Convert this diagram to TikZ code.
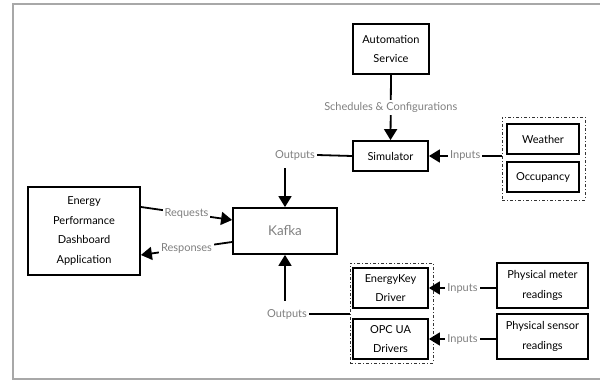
\documentclass[tikz,border=0pt]{standalone}
\usepackage{fontspec}
\setmainfont{Lato}
\usetikzlibrary{arrows.meta,calc}
\definecolor{lbl}{HTML}{808080}
\definecolor{frame}{HTML}{A8A8A8}
\tikzset{
  box/.style={draw=black, line width=1.8pt, align=center, inner sep=0pt, font=\fontsize{11}{19.5}\selectfont},
  lab/.style={text=lbl, fill=white, inner sep=2pt, font=\fontsize{11}{13}\selectfont},
  conn/.style={line width=1.8pt, draw=black},
  arr/.style={conn, -{Triangle[length=11pt,width=13pt]}},
  grp/.style={draw=black!80, line width=0.9pt, dash pattern=on 3pt off 2pt on 1pt off 2pt}
}
\begin{document}
\begin{tikzpicture}[x=1pt,y=-1pt]
\useasboundingbox (0,0) rectangle (600,380);
\draw[frame, line width=1.5pt] (602,4) -- (13,4) -- (13,379) -- (602,379);

\node[box, minimum width=76pt, minimum height=50pt] (auto) at (391,49) {Automation\\Service};
\node[box, minimum width=75pt, minimum height=30pt] (sim) at (390.5,156) {Simulator};
\node[box, minimum width=72pt, minimum height=30pt] (weather) at (543,139) {Weather};
\node[box, minimum width=72pt, minimum height=30pt] (occ) at (543,177) {Occupancy};
\node[grp, minimum width=83pt, minimum height=83pt] (env) at (543.5,158.5) {};

\node[box, minimum width=104pt, minimum height=46pt, font=\fontsize{13.5}{16}\selectfont, text=lbl] (kafka) at (285,231) {Kafka};
\node[box, minimum width=112pt, minimum height=88pt] (dash) at (84,231) {Energy\\Performance\\Dashboard\\Application};

\node[box, minimum width=75pt, minimum height=40pt] (ek) at (390.5,288) {EnergyKey\\Driver};
\node[box, minimum width=75pt, minimum height=40pt] (opc) at (390.5,339) {OPC UA\\Drivers};
\node[grp, minimum width=83pt, minimum height=100pt] (drv) at (391.5,313) {};
\node[box, minimum width=91pt, minimum height=45pt] (meter) at (542.5,285.5) {Physical meter\\readings};
\node[box, minimum width=91pt, minimum height=45pt] (sensor) at (542.5,336.5) {Physical sensor\\readings};

% automation -> simulator
\draw[arr] (auto.south) -- node[lab, pos=0.5] {Schedules \& Configurations} (sim.north);
% environment -> simulator
\draw[arr] (env.west |- sim.east) -- node[lab] {Inputs} (sim.east);
% simulator outputs -> kafka
\node[lab] (outtop) at (295,155) {Outputs};
\draw[conn] (sim.west) -- (outtop.east);
\draw[arr] ([yshift=-6pt]outtop.south -| kafka.north) -- (kafka.north);
% drivers outputs -> kafka
\node[lab] (outbot) at (287,314) {Outputs};
\draw[conn] (outbot.east) -- (drv.west |- outbot.east);
\draw[arr] ([yshift=6pt]outbot.north -| kafka.south) -- (kafka.south);
% physical -> drivers
\draw[arr] (meter.west |- ek.east) -- node[lab] {Inputs} (ek.east);
\draw[arr] (sensor.west |- opc.east) -- node[lab] {Inputs} (opc.east);
% dashboard <-> kafka
\draw[arr] ($(dash.east)+(0,-24)$) -- node[lab] {Requests} ($(kafka.west)+(0,-11)$);
\draw[arr] ($(kafka.west)+(0,11)$) -- node[lab] {Responses} ($(dash.east)+(0,24)$);
\end{tikzpicture}
\end{document}
